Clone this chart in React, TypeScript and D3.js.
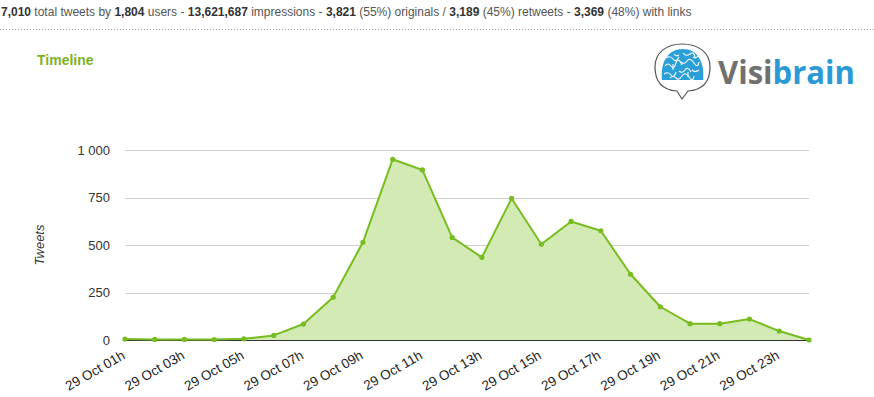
import React, { useRef, useEffect } from "react";
import * as d3 from "d3";

const hours = [
  "01h", "02h", "03h", "04h", "05h", "06h", "07h", "08h", "09h", "10h", "11h", "12h",
  "13h", "14h", "15h", "16h", "17h", "18h", "19h", "20h", "21h", "22h", "23h", "24h",
];
const tweets = [
  5, 3, 3, 2, 6, 24, 84, 225, 514, 951, 895, 540,
  435, 745, 504, 624, 575, 346, 175, 86, 86, 110, 47, 0,
];
const yTicks = [0, 250, 500, 750, 1000];
const labelHours = ["01h", "03h", "05h", "07h", "09h", "11h", "13h", "15h", "17h", "19h", "21h", "23h"];

const headerParts: [string, boolean][] = [
  ["7,010", true], [" total tweets by ", false], ["1,804", true], [" users - ", false],
  ["13,621,687", true], [" impressions - ", false], ["3,821", true], [" (55%) originals / ", false],
  ["3,189", true], [" (45%) retweets - ", false], ["3,369", true], [" (48%) with links", false],
];

const W = 874;
const H = 397;
const FONT = "'Liberation Sans', Arial, Helvetica, sans-serif";

export default function App() {
  const svgRef = useRef<SVGSVGElement>(null);

  useEffect(() => {
    document.body.style.margin = "0";
    if (!svgRef.current) return;
    const svg = d3.select(svgRef.current);
    svg.selectAll("*").remove();

    const margin = { top: 150, right: 65, bottom: 57, left: 125 };
    const innerW = W - margin.left - margin.right;
    const innerH = H - margin.top - margin.bottom;

    // header
    const header = svg.append("text")
      .attr("x", 1).attr("y", 16)
      .style("font-family", FONT).style("font-size", "12px");
    headerParts.forEach(([t, b]) => {
      header.append("tspan")
        .text(t)
        .style("font-weight", b ? "bold" : "normal")
        .style("fill", b ? "#333" : "#555");
    });
    svg.append("line")
      .attr("x1", 0).attr("x2", W).attr("y1", 29.5).attr("y2", 29.5)
      .style("stroke", "#aaa").style("stroke-dasharray", "1,2");

    svg.append("text")
      .attr("x", 37).attr("y", 65)
      .text("Timeline")
      .style("font-family", FONT).style("font-size", "14px")
      .style("font-weight", "bold").style("fill", "#7db21f");

    // logo
    const logo = svg.append("g");
    logo.append("path")
      .attr("d", "M682,99 L677,91 C662,90 655,81 655,67 C655,52 667,44 682,44 C698,44 710,52 710,67 C710,81 703,90 688,91 Z")
      .style("fill", "#fff").style("stroke", "#555").style("stroke-width", 1.2);
    logo.append("path")
      .attr("d", "M662,80 C660,62 668,49 683,49 C697,49 705,62 703,80 Z")
      .style("fill", "#2a9fd8");
    const squiggles = [
      "M666,58 q4,-3 7,1 t6,-2", "M683,53 q3,4 7,1 t5,3", "M665,66 q3,-4 6,0 t5,-3 t6,2",
      "M681,62 q3,3 6,-1 t7,2 t5,-1", "M664,74 q4,-3 7,1 t5,-3", "M679,71 q3,3 6,-1 t6,2",
      "M692,70 q3,3 7,0", "M670,78 q3,-3 6,0 t6,-2 t7,1 t5,-1", "M674,54 q2,3 5,1",
      "M693,57 q3,2 5,-1", "M688,77 l0,-5", "M673,64 l0,6",
    ];
    squiggles.forEach((d) => {
      logo.append("path").attr("d", d)
        .style("fill", "none").style("stroke", "#fff").style("stroke-width", 1.1);
    });
    const logoText = logo.append("text")
      .attr("x", 718).attr("y", 84)
      .attr("textLength", 137).attr("lengthAdjust", "spacingAndGlyphs")
      .style("font-family", "'Open Sans', sans-serif").style("font-size", "32px")
      .style("font-weight", "bold");
    logoText.append("tspan").text("Visi").style("fill", "#707070");
    logoText.append("tspan").text("brain").style("fill", "#2a9ad6");

    const g = svg.append("g").attr("transform", `translate(${margin.left},${margin.top})`);

    const x = d3.scalePoint<string>().domain(hours).range([0, innerW]);
    const y = d3.scaleLinear().domain([0, 1000]).range([innerH, 0]);
    const fmt = d3.formatLocale({ decimal: ",", thousands: " ", grouping: [3], currency: ["", ""] }).format(",d");

    // grid
    g.selectAll(".grid")
      .data(yTicks.filter((t) => t > 0))
      .join("line")
      .attr("x1", 0).attr("x2", innerW)
      .attr("y1", (d) => Math.round(y(d)) + 0.5).attr("y2", (d) => Math.round(y(d)) + 0.5)
      .style("stroke", "#d0d0d0");

    const yAxis = g.append("g").call(d3.axisLeft(y).tickValues(yTicks).tickFormat((d) => fmt(d as number)).tickSize(0).tickPadding(15));
    yAxis.select(".domain").remove();
    yAxis.selectAll("text").style("font-family", FONT).style("font-size", "13px").style("fill", "#333");

    svg.append("text")
      .attr("transform", `translate(44,${margin.top + innerH / 2}) rotate(-90)`)
      .attr("text-anchor", "middle")
      .text("Tweets")
      .style("font-family", FONT).style("font-size", "13px").style("font-style", "italic").style("fill", "#333");

    // area + line
    const area = d3.area<number>()
      .x((_, i) => x(hours[i]) ?? 0)
      .y0(innerH)
      .y1((d) => y(d));
    const line = d3.line<number>()
      .x((_, i) => x(hours[i]) ?? 0)
      .y((d) => y(d));

    g.append("path").datum(tweets).attr("d", area).style("fill", "#d3eab4");
    g.append("line")
      .attr("x1", 0).attr("x2", innerW).attr("y1", innerH + 0.5).attr("y2", innerH + 0.5)
      .style("stroke", "#333");
    g.append("path").datum(tweets).attr("d", line)
      .style("fill", "none").style("stroke", "#78bd1f").style("stroke-width", 2)
      .style("stroke-linejoin", "round");
    g.selectAll(".pt")
      .data(tweets)
      .join("circle")
      .attr("cx", (_, i) => x(hours[i]) ?? 0)
      .attr("cy", (d) => y(d))
      .attr("r", 2.6)
      .style("fill", "#78bd1f");

    // x labels
    g.selectAll(".xl")
      .data(labelHours)
      .join("text")
      .attr("transform", (d) => `translate(${(x(d) ?? 0) + 1},${innerH + 18}) rotate(-30)`)
      .attr("text-anchor", "end")
      .text((d) => `29 Oct ${d}`)
      .style("font-family", FONT).style("font-size", "13.5px").style("fill", "#222");
  }, []);

  return <svg ref={svgRef} width={W} height={H} style={{ display: "block" }} />;
}
